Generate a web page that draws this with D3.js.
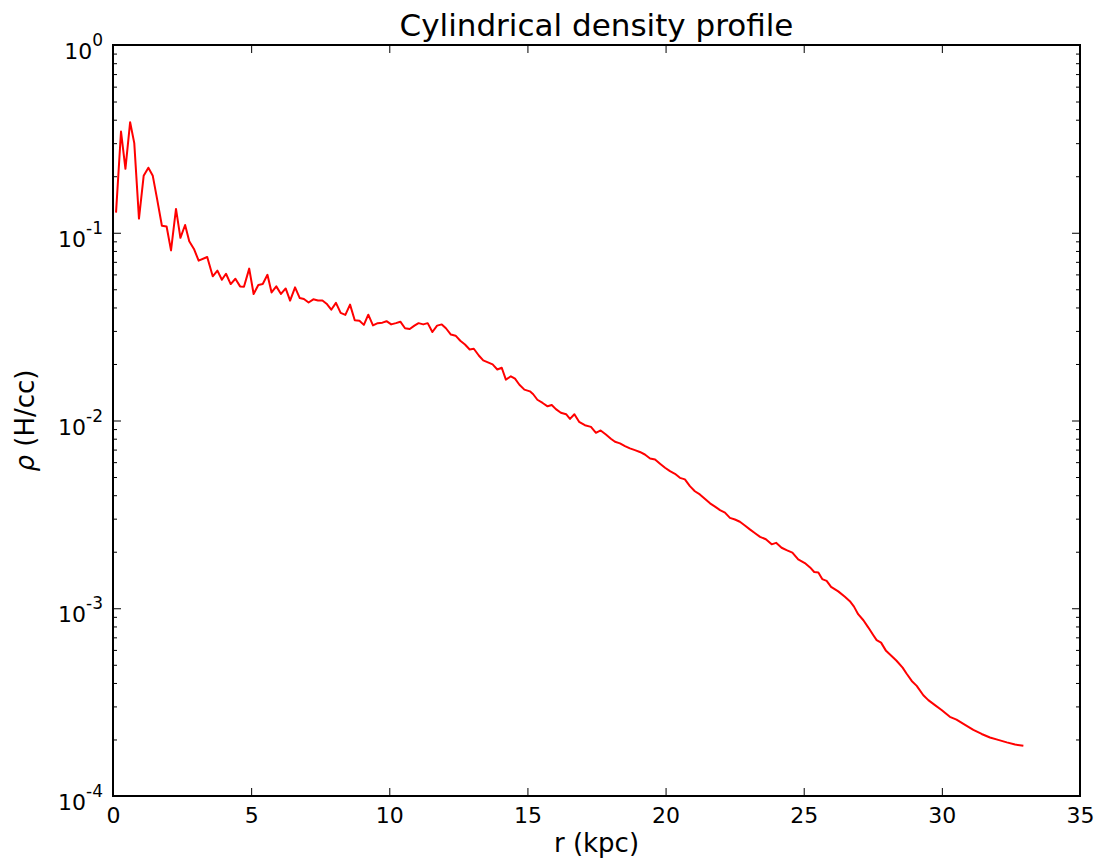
<!DOCTYPE html>
<html><head><meta charset="utf-8">
<script src="https://cdn.jsdelivr.net/npm/d3@7"></script>
<style>
html,body{margin:0;padding:0;background:#fff;}
svg text{font-family:"DejaVu Sans",sans-serif;fill:#000;}
</style></head>
<body>
<svg id="chart" width="1099" height="863"></svg>
<script>
const titleText = "Cylindrical density profile";
const xLabel = "r (kpc)";
const xTicks = [0, 5, 10, 15, 20, 25, 30, 35];
const yExponents = [0, -1, -2, -3, -4];
// [r (kpc), rho (H/cc)]
const profile = [
[0.11,0.128],[0.29,0.346],[0.45,0.219],[0.62,0.388],[0.77,0.30],[0.94,0.119],[1.11,0.201],[1.28,0.222],
[1.44,0.201],[1.60,0.15],[1.77,0.109],[1.94,0.108],[2.10,0.0805],[2.28,0.134],[2.44,0.094],[2.61,0.110],
[2.76,0.090],[2.93,0.082],[3.10,0.071],[3.41,0.0743],[3.61,0.0586],[3.78,0.0628],[3.94,0.0562],[4.09,0.0605],
[4.26,0.0533],[4.43,0.0569],[4.60,0.0518],[4.74,0.0516],[4.93,0.0644],[5.09,0.0472],[5.26,0.0527],[5.42,0.0533],
[5.59,0.0597],[5.74,0.0481],[5.91,0.0518],[6.08,0.0472],[6.25,0.0505],[6.41,0.0435],[6.59,0.0512],[6.76,0.0449],
[6.91,0.0444],[7.08,0.0425],[7.25,0.0442],[7.42,0.0436],[7.58,0.0436],[7.73,0.0419],[7.90,0.0389],[8.07,0.0423],
[8.24,0.0374],[8.41,0.0365],[8.58,0.0414],[8.75,0.0342],[8.92,0.034],[9.08,0.0323],[9.24,0.0366],[9.41,0.0321],
[9.58,0.033],[9.75,0.0332],[9.90,0.0338],[10.07,0.0325],[10.24,0.033],[10.40,0.0336],[10.57,0.031],[10.74,0.0307],
[10.91,0.032],[11.06,0.033],[11.23,0.0325],[11.39,0.033],[11.56,0.0296],[11.73,0.032],[11.90,0.0325],[12.05,0.031],
[12.23,0.0287],[12.40,0.0283],[12.57,0.0266],[12.74,0.0254],[12.91,0.0239],[13.06,0.0241],[13.24,0.0222],[13.40,0.0209],
[13.57,0.0204],[13.74,0.0199],[13.91,0.0187],[14.07,0.0191],[14.22,0.0165],[14.40,0.0172],[14.55,0.0167],[14.71,0.0155],
[14.89,0.0146],[15.09,0.0143],[15.21,0.0138],[15.36,0.0129],[15.55,0.0124],[15.73,0.0119],[15.88,0.0121],[16.03,0.0115],
[16.21,0.011],[16.40,0.0108],[16.54,0.0102],[16.70,0.0108],[16.87,0.00984],[17.08,0.00944],[17.30,0.00925],[17.48,0.0086],
[17.65,0.00885],[17.84,0.00843],[18.02,0.008],[18.17,0.0077],[18.35,0.00755],[18.53,0.0073],[18.71,0.0071],[18.89,0.00695],
[19.07,0.0068],[19.25,0.00659],[19.44,0.00628],[19.62,0.0062],[19.80,0.00589],[19.98,0.0056],[20.16,0.00537],[20.34,0.0052],
[20.52,0.00495],[20.70,0.00486],[20.88,0.00447],[21.06,0.0042],[21.24,0.00404],[21.42,0.00383],[21.61,0.00362],[21.79,0.00348],
[21.97,0.00333],[22.15,0.00323],[22.33,0.00303],[22.51,0.00297],[22.69,0.00289],[22.87,0.00276],[23.05,0.00263],[23.24,0.00251],
[23.42,0.0024],[23.63,0.00233],[23.84,0.00219],[24.00,0.00223],[24.20,0.0021],[24.38,0.00204],[24.59,0.00198],[24.80,0.00182],
[25.04,0.00174],[25.23,0.00165],[25.38,0.00156],[25.53,0.00155],[25.67,0.00143],[25.83,0.0014],[25.99,0.0013],[26.25,0.00123],
[26.49,0.00115],[26.67,0.00109],[26.82,0.00102],[26.97,0.00093],[27.16,0.000863],[27.34,0.000789],[27.52,0.000718],[27.64,0.000676],
[27.80,0.000656],[27.98,0.000593],[28.18,0.000557],[28.36,0.000525],[28.58,0.000483],[28.72,0.000449],[28.91,0.00041],[29.09,0.000386],
[29.33,0.000344],[29.51,0.000324],[29.75,0.000305],[29.99,0.000287],[30.29,0.000264],[30.53,0.000255],[30.84,0.000239],[31.14,0.000225],
[31.44,0.000214],[31.74,0.000205],[32.04,0.000199],[32.35,0.000193],[32.65,0.000188],[32.95,0.000185]
];

const svg = d3.select("#chart");
const m = {left:113, right:1080, top:45, bottom:796};
const x = d3.scaleLinear().domain([0,35]).range([m.left, m.right]);
const y = d3.scaleLog().domain([1e-4, 1]).range([m.bottom, m.top]);

const majorY = yExponents.map(e => Math.pow(10, e));
const minorY = [];
for (let e = -4; e < 0; e++) for (let k = 2; k <= 9; k++) minorY.push(k * Math.pow(10, e));

function styleAxis(g){ g.select(".domain").remove(); g.selectAll("line").attr("stroke","#000").attr("stroke-width",1); }

// x axes bottom / top
svg.append("g").attr("transform",`translate(0,${m.bottom})`)
  .call(d3.axisBottom(x).tickValues(xTicks).tickSizeInner(-8).tickSizeOuter(0).tickPadding(11).tickFormat(d3.format("d")))
  .call(styleAxis)
  .call(g => g.selectAll("text").attr("font-size",22).attr("font-family","DejaVu Sans"));
svg.append("g").attr("transform",`translate(0,${m.top})`)
  .call(d3.axisTop(x).tickValues(xTicks).tickSizeInner(-8).tickSizeOuter(0).tickFormat(""))
  .call(styleAxis);

// y axes major / minor, left and right
svg.append("g").attr("transform",`translate(${m.left},0)`)
  .call(d3.axisLeft(y).tickValues(majorY).tickSizeInner(-8).tickSizeOuter(0).tickFormat(""))
  .call(styleAxis);
svg.append("g").attr("transform",`translate(${m.left},0)`)
  .call(d3.axisLeft(y).tickValues(minorY).tickSizeInner(-4).tickSizeOuter(0).tickFormat(""))
  .call(styleAxis);
svg.append("g").attr("transform",`translate(${m.right},0)`)
  .call(d3.axisRight(y).tickValues(majorY).tickSizeInner(-8).tickSizeOuter(0).tickFormat(""))
  .call(styleAxis);
svg.append("g").attr("transform",`translate(${m.right},0)`)
  .call(d3.axisRight(y).tickValues(minorY).tickSizeInner(-4).tickSizeOuter(0).tickFormat(""))
  .call(styleAxis);

// y tick labels with superscripts
yExponents.forEach(e => {
  const t = svg.append("text").attr("x", m.left - 10).attr("y", y(Math.pow(10,e)) + 14)
    .attr("text-anchor","end").attr("font-size",22);
  t.append("tspan").text("10");
  t.append("tspan").attr("dy",-13).attr("font-size",17).text(String(e));
});

// frame
svg.append("rect").attr("x",m.left).attr("y",m.top).attr("width",m.right-m.left).attr("height",m.bottom-m.top)
  .attr("fill","none").attr("stroke","#000").attr("stroke-width",2);

// line
const line = d3.line().x(d => x(d[0])).y(d => y(d[1]));
svg.append("path").datum(profile).attr("d", line)
  .attr("fill","none").attr("stroke","#ff0000").attr("stroke-width",2).attr("stroke-linejoin","round");

// title
svg.append("text").attr("x",(m.left+m.right)/2).attr("y",36).attr("text-anchor","middle")
  .attr("font-size",31).text(titleText);
// x label
svg.append("text").attr("x",(m.left+m.right)/2).attr("y",852).attr("text-anchor","middle")
  .attr("font-size",26).text(xLabel);
// y label
const yt = svg.append("text").attr("transform",`translate(34,${(m.top+m.bottom)/2}) rotate(-90)`)
  .attr("text-anchor","middle").attr("font-size",26);
yt.append("tspan").attr("font-style","italic").text("ρ");
yt.append("tspan").text(" (H/cc)");
</script>
</body></html>
